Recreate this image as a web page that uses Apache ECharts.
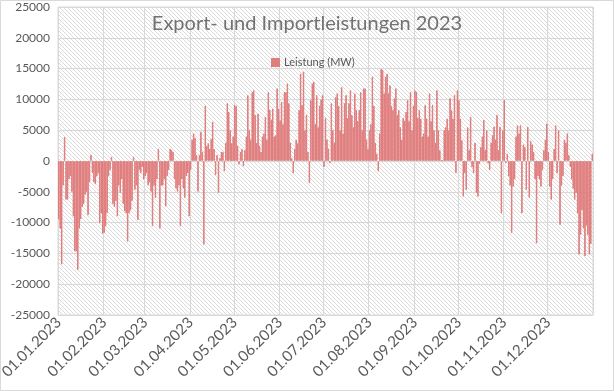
<!DOCTYPE html>
<html>
<head>
<meta charset="utf-8">
<script src="https://cdn.jsdelivr.net/npm/echarts@6/dist/echarts.min.js"></script>
<style>html,body{margin:0;padding:0;background:#fff}#c{width:614px;height:391px}</style>
</head>
<body>
<div id="c"></div>
<script>
const titleText = 'Export- und Importleistungen 2023';
const seriesName = 'Leistung (MW)';
const monthLabels = ['01.01.2023','01.02.2023','01.03.2023','01.04.2023','01.05.2023','01.06.2023','01.07.2023','01.08.2023','01.09.2023','01.10.2023','01.11.2023','01.12.2023'];
const yTicks = [-25000,-20000,-15000,-10000,-5000,0,5000,10000,15000,20000,25000];

const jan = [-9500,-11000,-16800,-4000,3900,-6300,-6300,-3000,-2500,-5000,-9000,-14700,-14700,-17700,-11000,-9500,-7500,-7000,-5500,-5000,-8800,-3500,1000,-2000,-3500,-3800,-2500,-2000,-10100,-8500,-11800];
const feb = [-11700,-10600,-8500,-2500,-1500,700,-7000,-7500,-6500,-9000,-4000,-5200,-3000,-7000,-8200,-8500,-13100,-8500,-8000,-6500,700,-4700,-4000,-9600,-1500,-2000,-1000,-3000];
const mar = [-2500,-2000,-4000,-3500,-5000,-10600,-4000,-6000,-3000,2000,-11000,-4000,-4000,-3000,-7400,-2500,-1500,2000,1800,1500,-3000,-4500,-5000,-4000,-10600,-3000,-4500,-6000,-2500,-2000,-9000];
const apr = [-1500,3500,4500,3800,1000,-5000,1000,4800,1500,-13600,9000,2500,2900,2000,3600,6400,2000,-2300,1000,-5200,500,1500,1500,-1700,3000,9400,8000,5000,2900,4000];
const may = [9100,9000,2500,-600,1500,2000,-900,1800,4000,10700,5000,3500,11200,11500,7500,3000,7700,2500,1500,4000,4500,7200,3500,11200,8300,6700,8500,4000,4200,11800,8500];
const jun = [6600,9600,6000,11200,11200,12600,9400,3000,500,-2000,2000,3500,2900,8300,14200,9100,14500,5000,7500,1500,-3600,9900,12600,12900,6000,10700,5500,9000,10000,10700];
const jul = [-1000,7000,3500,2000,-400,9400,5000,3000,10400,11000,9000,5000,12000,4500,9400,10700,7000,9400,11500,7500,5500,11000,8300,6500,8300,11200,5000,11800,11800,3500,2000];
const aug = [5000,6000,13700,9000,3000,1200,-1700,4500,15000,14800,11000,13700,14200,11000,12300,9000,8300,10200,11800,7500,8300,5500,3500,7000,6500,8000,9900,6500,11200,5000,9000];
const sep = [11500,11250,7000,8300,6900,4000,4500,9100,6900,4000,11000,6500,9100,5000,3000,11500,5000,1800,200,100,5000,5500,6900,5000,10200,8300,6900,10700,-2000,11500];
const oct = [9900,6900,3400,-5800,-2000,-4700,5500,1800,7200,-1000,-2000,3000,-5200,-5800,-500,2300,4000,6700,1800,5000,-400,-1500,3000,4200,5600,3500,7500,1800,5600,-8500,5000];
const nov = [9900,-400,1200,-2500,-4000,-11700,-4200,-3000,4000,5800,4500,5800,-8500,2700,2300,-4700,5600,-6000,3300,2700,1500,-3000,-13400,-2500,-3000,-4200,-1500,1800,3500,6100];
const dec = [1500,-4200,-6300,-3000,2000,5800,-2000,5000,-10400,-4000,-2500,3500,3000,4500,1000,-1000,-3000,-4500,-6300,-5200,-8500,-15200,-12000,-8000,-11000,-15500,-10500,-12000,-15200,-13500,1200];

const months = [jan,feb,mar,apr,may,jun,jul,aug,sep,oct,nov,dec];
const values = [];
const categories = [];
months.forEach((arr, m) => {
  arr.forEach((v, i) => {
    values.push(v);
    const dd = String(i + 1).padStart(2, '0');
    const mm = String(m + 1).padStart(2, '0');
    categories.push(dd + '.' + mm + '.2023');
  });
});

// hatch pattern
const pc = document.createElement('canvas');
pc.width = 4; pc.height = 4;
const pctx = pc.getContext('2d');
pctx.fillStyle = '#ffffff'; pctx.fillRect(0, 0, 4, 4);
pctx.fillStyle = '#dadada';
for (let i = 0; i < 4; i++) pctx.fillRect(i, i, 1, 1);

const FONT = 'Lato';
const chart = echarts.init(document.getElementById('c'), null, {renderer: 'canvas'});
chart.setOption({
  animation: false,
  backgroundColor: '#ffffff',
  title: {
    text: titleText, left: 'center', top: 9,
    textStyle: {fontFamily: FONT, fontSize: 20, fontWeight: 'normal', color: '#727272'}
  },
  legend: {
    data: [seriesName], left: 266, top: 52, icon: 'rect', itemWidth: 7, itemHeight: 7, itemGap: 4,
    textStyle: {fontFamily: FONT, fontSize: 11, color: '#595959'}
  },
  grid: {
    left: 58, right: 21, top: 7, bottom: 76, show: true, containLabel: false, outerBoundsMode: 'none',
    backgroundColor: {image: pc, repeat: 'repeat'},
    borderColor: '#d9d9d9', borderWidth: 1
  },
  xAxis: {
    type: 'category', data: categories, boundaryGap: true,
    axisLine: {show: false, onZero: false},
    axisTick: {show: false},
    axisLabel: {
      interval: (idx, val) => monthLabels.indexOf(val) >= 0,
      rotate: 45, fontFamily: FONT, fontSize: 15, color: '#595959', margin: 5
    },
    splitLine: {
      show: true, interval: (idx, val) => monthLabels.indexOf(val) >= 0,
      lineStyle: {color: '#d9d9d9', width: 1}
    }
  },
  yAxis: {
    type: 'value', min: yTicks[0], max: yTicks[yTicks.length - 1], interval: 5000,
    axisLine: {show: false}, axisTick: {show: false},
    axisLabel: {fontFamily: FONT, fontSize: 12, color: '#595959', margin: 8, formatter: v => String(v)},
    splitLine: {lineStyle: {color: '#d9d9d9', width: 1}}
  },
  series: [{
    name: seriesName, type: 'bar', data: values,
    barCategoryGap: '0%',
    itemStyle: {color: '#e07e7e', borderColor: '#e07e7e', borderWidth: 1}
  }],
  graphic: [{
    type: 'rect', silent: true, z: 100,
    shape: {x: 0.5, y: 0.5, width: 613, height: 390},
    style: {fill: 'none', stroke: '#d9d9d9', lineWidth: 1}
  }]
});
</script>
</body>
</html>
